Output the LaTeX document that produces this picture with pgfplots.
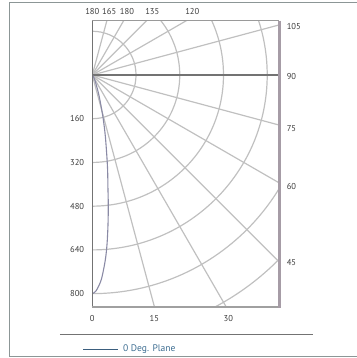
\documentclass[border=0pt]{standalone}
\usepackage{fontspec}
\setmainfont{PT Sans}
\usepackage{pgfplots}
\pgfplotsset{compat=1.18}
\definecolor{gridc}{RGB}{192,192,192}
\definecolor{curvec}{RGB}{138,138,165}
\definecolor{axc}{RGB}{115,115,115}
\definecolor{rightc}{RGB}{166,156,166}
\definecolor{botc}{RGB}{160,160,160}
\definecolor{framec}{RGB}{140,150,150}
\definecolor{labc}{RGB}{60,60,60}
\definecolor{legc}{RGB}{59,94,126}
\definecolor{legt}{RGB}{61,109,145}
\begin{document}
\begin{tikzpicture}
\pgfplotsset{base/.style={hide axis, x=0.2733bp, y=0.2733bp, xmin=0, xmax=684, ymin=-849, ymax=198.7}}
% grid and curve, clipped to the frame
\begin{axis}[base, clip=true]
\draw[gridc, line width=1.2bp] (axis cs:0,0) circle[radius=160];
\draw[gridc, line width=1.2bp] (axis cs:0,0) circle[radius=320];
\draw[gridc, line width=1.2bp] (axis cs:0,0) circle[radius=480];
\draw[gridc, line width=1.2bp] (axis cs:0,0) circle[radius=640];
\draw[gridc, line width=1.2bp] (axis cs:0,0) circle[radius=800];
\draw[gridc, line width=1.2bp] (axis cs:0,0) circle[radius=960];
\addplot[gridc, line width=1.2bp, forget plot] coordinates {(0,0) (310.6,-1159.1)};
\addplot[gridc, line width=1.2bp, forget plot] coordinates {(0,0) (600,-1039.2)};
\addplot[gridc, line width=1.2bp, forget plot] coordinates {(0,0) (848.5,-848.5)};
\addplot[gridc, line width=1.2bp, forget plot] coordinates {(0,0) (1039.2,-600)};
\addplot[gridc, line width=1.2bp, forget plot] coordinates {(0,0) (1159.1,-310.6)};
\addplot[gridc, line width=1.2bp, forget plot] coordinates {(0,0) (1159.1,310.6)};
\addplot[gridc, line width=1.2bp, forget plot] coordinates {(0,0) (1039.2,600)};
\addplot[gridc, line width=1.2bp, forget plot] coordinates {(0,0) (848.5,848.5)};
\addplot[gridc, line width=1.2bp, forget plot] coordinates {(0,0) (600,1039.2)};
\addplot[gridc, line width=1.2bp, forget plot] coordinates {(0,0) (310.6,1159.1)};
\addplot[axc, line width=1.3bp, forget plot] coordinates {(0,0) (700,0)};
% 0 Deg. Plane curve (cartesian from polar: x=r sin t, y=-r cos t)
\addplot[curvec, line width=1.1bp, smooth, tension=0.5] coordinates {
(0,-800) (13.8,-789.9) (32.7,-749.3) (47.4,-678.3) (54.0,-617.6) (57.5,-547.0)
(58.5,-476.4) (57.1,-406.0) (56.3,-355.6) (53.8,-305.3) (47.8,-225.0)
(39.9,-160.1) (27.8,-90.8) (18.8,-51.7) (10.6,-22.7) (4.6,-6.6) (0,0)};
\end{axis}
% frame, labels, legend
\begin{axis}[base, clip=false]
\draw[gridc!80!black, line width=0.8bp] (axis cs:0,198.7) -- (axis cs:684,198.7);
\draw[axc, line width=1.3bp] (axis cs:0,198.7) -- (axis cs:0,-849);
\draw[botc, line width=2.5bp] (axis cs:-2,-849) -- (axis cs:689,-849);
\draw[rightc, line width=3bp] (axis cs:684,198.7) -- (axis cs:684,-853);
\tikzset{lab/.style={inner sep=0pt, text=labc, font=\fontsize{8.6}{10}\selectfont}}
\node[lab, anchor=east] at (axis cs:-29,-160) {160};
\node[lab, anchor=east] at (axis cs:-29,-320) {320};
\node[lab, anchor=east] at (axis cs:-29,-480) {480};
\node[lab, anchor=east] at (axis cs:-29,-640) {640};
\node[lab, anchor=east] at (axis cs:-29,-800) {800};
\node[lab, anchor=west] at (axis cs:711,176.7) {105};
\node[lab, anchor=west] at (axis cs:711,-7.3) {90};
\node[lab, anchor=west] at (axis cs:711,-196.5) {75};
\node[lab, anchor=west] at (axis cs:711,-408.7) {60};
\node[lab, anchor=west] at (axis cs:711,-686.8) {45};
\node[lab] at (axis cs:0,230.5) {180};
\node[lab] at (axis cs:61.8,230.5) {165};
\node[lab] at (axis cs:126.8,230.5) {180};
\node[lab] at (axis cs:219.5,230.5) {135};
\node[lab] at (axis cs:365.8,230.5) {120};
\node[lab] at (axis cs:0,-890) {0};
\node[lab] at (axis cs:226.9,-890) {15};
\node[lab] at (axis cs:497.6,-890) {30};
\draw[axc, line width=1bp] (axis cs:-118.2,-947.7) -- (axis cs:807.5,-947.7);
\draw[legc, line width=1bp] (axis cs:-34,-1002.6) -- (axis cs:94,-1002.6);
\node[inner sep=0pt, anchor=west, text=legt, font=\fontsize{9.6}{12}\selectfont] at (axis cs:112.3,-1002.6) {0 Deg. Plane};
\draw[framec, line width=1bp] (axis cs:980,264.5) -- (axis cs:-303.7,264.5) -- (axis cs:-303.7,-1030.7) -- (axis cs:980,-1030.7);
\coordinate (BL) at (axis cs:-337.7,-1035.5);
\coordinate (TR) at (axis cs:968.5,274.4);
\end{axis}
\pgfresetboundingbox
\useasboundingbox (BL) rectangle (TR);
\end{tikzpicture}
\end{document}
